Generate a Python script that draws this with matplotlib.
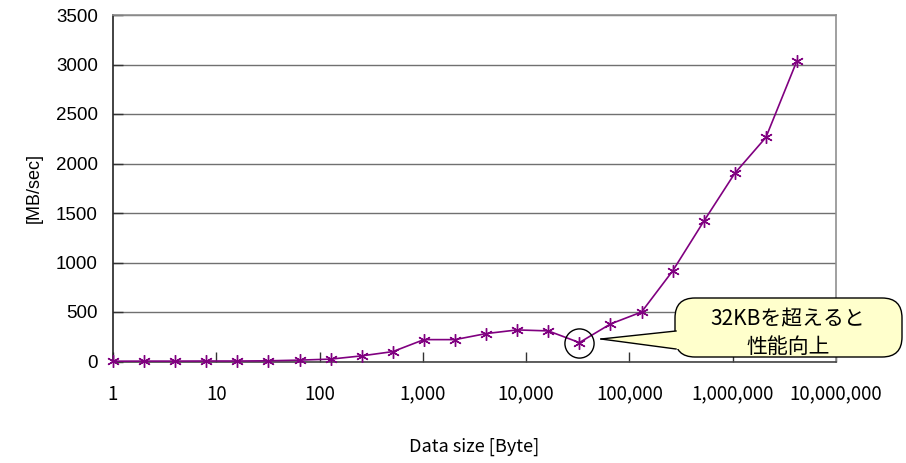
import matplotlib.pyplot as plt
from matplotlib.patches import FancyBboxPatch, Polygon
from matplotlib.lines import Line2D
from matplotlib.ticker import FixedLocator, NullLocator

# === Data: transfer rate by data size (powers of two)
sizes = [2 ** i for i in range(23)]
rates = [3, 4, 4, 5, 5, 7, 14, 24, 57, 100,
         221, 221, 282, 319, 309, 191, 379, 500,
         915, 1416, 1902, 2264, 3040]
dip_size = 32768
dip_rate = 191
callout_text = "32KBを超えると\n性能向上"

x_ticks = [1, 10, 100, 1000, 10000, 100000, 1000000, 10000000]
x_labels = ["1", "10", "100", "1,000", "10,000", "100,000", "1,000,000", "10,000,000"]
y_ticks = [0, 500, 1000, 1500, 2000, 2500, 3000, 3500]

W, H = 906, 463
JP = ["Noto Sans CJK JP", "DejaVu Sans"]
AR = ["Liberation Sans", "DejaVu Sans"]

def px(x, y):
    # pixel (from top-left) -> figure fraction
    return (x / W, 1 - y / H)

fig = plt.figure(figsize=(W / 100, H / 100), dpi=100)
ax = fig.add_axes([113 / W, 1 - 361.5 / H, 723 / W, 346.5 / H])

ax.plot(sizes, rates, color="#800080", lw=1.2, marker=(6, 2, 0),
        markersize=9, markeredgewidth=1.0, zorder=3, clip_on=False)
# circle around the dip
ax.plot([dip_size], [dip_rate], marker="o", markersize=21, mfc="none",
        mec="black", mew=1.0, ls="none", zorder=4, clip_on=False)

ax.set_xscale("log")
ax.set_xlim(1, 1e7)
ax.set_ylim(0, 3500)
ax.xaxis.set_major_locator(FixedLocator(x_ticks))
ax.xaxis.set_minor_locator(NullLocator())
ax.set_xticklabels(x_labels, family=JP, fontsize=13.5)
ax.set_yticks(y_ticks)
ax.set_yticklabels([str(v) for v in y_ticks], family=AR, fontsize=13.5)
ax.tick_params(axis="x", direction="in", length=7, width=1, color="#333333", pad=16)
ax.tick_params(axis="y", direction="in", length=7, width=1, color="#333333", pad=11)

ax.grid(axis="y", color="#707070", lw=1)
ax.set_axisbelow(True)
ax.spines["left"].set_color("#222222")
ax.spines["bottom"].set_color("#444444")
ax.spines["top"].set_color("#909090")
ax.spines["right"].set_color("#909090")
for s in ax.spines.values():
    s.set_linewidth(1.2)

ax.set_xlabel("Data size [Byte]", family=JP, fontsize=13, labelpad=24)
ax.set_ylabel("[MB/sec]", family=AR, fontsize=13, labelpad=9)

# === Callout balloon
x0, y0 = px(675, 357)
x1, y1 = px(902, 298)
box = FancyBboxPatch((x0, y0), x1 - x0, y1 - y0,
                     boxstyle="round,pad=0,rounding_size=0.022",
                     transform=fig.transFigure, facecolor="#FFFFCC",
                     edgecolor="black", lw=1.0, zorder=5, mutation_aspect=W / H)
fig.add_artist(box)
tip = px(601, 339)
top = px(676, 331)
bot = px(676, 349)
fig.add_artist(Polygon([tip, top, px(680, 331), px(680, 349), bot], closed=True,
                       transform=fig.transFigure, facecolor="#FFFFCC",
                       edgecolor="none", zorder=6))
fig.add_artist(Line2D([tip[0], top[0]], [tip[1], top[1]], transform=fig.transFigure,
                      color="black", lw=1.0, zorder=7))
fig.add_artist(Line2D([tip[0], bot[0]], [tip[1], bot[1]], transform=fig.transFigure,
                      color="black", lw=1.0, zorder=7))
tx, ty = px(788, 333)
fig.text(tx, ty, callout_text, family=JP, fontsize=15, ha="center", va="center",
         linespacing=1.3, zorder=8)

fig.savefig("out.png", dpi=100)
